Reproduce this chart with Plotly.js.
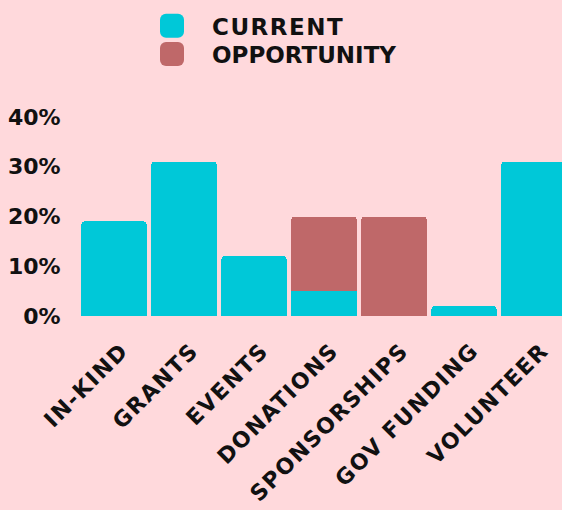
<!DOCTYPE html>
<html><head><meta charset="utf-8">
<script src="https://cdn.plot.ly/plotly-3.0.1.min.js"></script>
<style>
html,body{margin:0;padding:0;background:#FFD9DC;overflow:hidden;}
.scrollbox{clip-path:none !important;}
.legendpoints path{transform:scale(2);}
.legendtext{letter-spacing:1.5px;}
.xtick text{letter-spacing:1.5px;}
</style>
</head><body>
<div id="chart" style="width:562px;height:510px;"></div>
<script>
const categories = ["IN-KIND","GRANTS","EVENTS","DONATIONS","SPONSORSHIPS","GOV FUNDING","VOLUNTEER"];
const current = [19,31,12,5,0,2,31];
const opportunity = [0,0,0,15,20,0,0];
const yTickVals = [0,10,20,30,40];
const yTickText = ["0%","10%","20%","30%","40%"];

const FONT = "'DejaVu Sans', sans-serif";
const WEIGHT = "bold";
const traces = [
  {type:"bar", name:"CURRENT", x:categories, y:current, legend:"legend",
   marker:{color:"#00C8D8", cornerradius:3}},
  {type:"bar", name:"OPPORTUNITY", x:categories, y:opportunity, legend:"legend2",
   marker:{color:"#BF6869", cornerradius:3}}
];
const legendBase = {xref:"container", yref:"container", x:172/562, xanchor:"left", yanchor:"middle",
  font:{size:23, family:FONT, weight:WEIGHT}, bgcolor:"rgba(0,0,0,0)", itemwidth:28};
const layout = {
  width:562, height:510,
  paper_bgcolor:"#FFD9DC", plot_bgcolor:"#FFD9DC",
  barmode:"stack", bargap:0.07,
  margin:{l:79, r:0, t:117, b:194, autoexpand:false},
  font:{family:FONT, color:"#111", weight:WEIGHT},
  showlegend:true,
  legend:Object.assign({}, legendBase, {y:1-25.7/510}),
  legend2:Object.assign({}, legendBase, {y:1-54/510}),
  xaxis:{range:[-0.5,6.4], tickangle:-45, showgrid:false, zeroline:false, showline:false,
         tickfont:{size:22, family:FONT, weight:WEIGHT}, ticks:"outside", ticklen:12,
         tickcolor:"rgba(0,0,0,0)", ticklabelshift:8, fixedrange:true},
  yaxis:{range:[0,40], tickvals:yTickVals, ticktext:yTickText, showgrid:false, zeroline:false,
         showline:false, ticks:"outside", ticklen:13, tickcolor:"rgba(0,0,0,0)",
         tickfont:{size:22, family:FONT, weight:WEIGHT}, fixedrange:true}
};
Plotly.newPlot("chart", traces, layout, {displayModeBar:false, staticPlot:true});
</script>
</body></html>
